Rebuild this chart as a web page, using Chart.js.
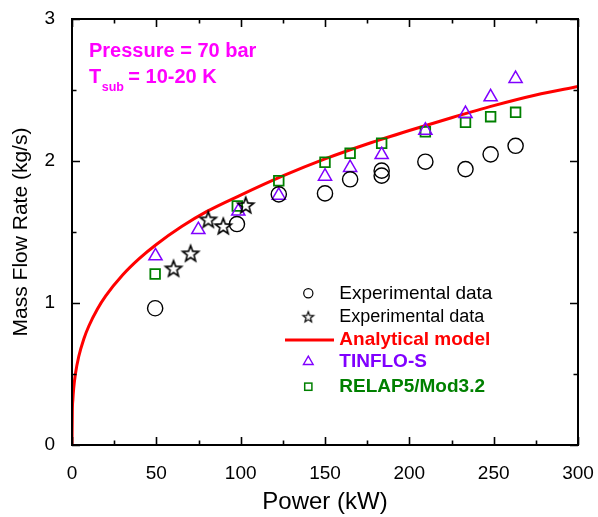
<!DOCTYPE html>
<html>
<head>
<meta charset="utf-8">
<script src="https://cdn.jsdelivr.net/npm/chart.js@4.4.0/dist/chart.umd.min.js"></script>
<style>
  html, body { margin: 0; padding: 0; background: #fff; }
  #wrap { width: 598px; height: 517px; }
</style>
</head>
<body>
<div id="wrap"><canvas id="flowChart" width="598" height="517"></canvas></div>
<script>
const FONT = "'Liberation Sans', Arial, sans-serif";

// Experimental data (circles)
const expPower = [49.3, 97.8, 122.6, 150, 164.9, 183.6, 183.6, 209.5, 233.3, 248.2, 263];
const expFlow = [0.963, 1.556, 1.765, 1.772, 1.871, 1.897, 1.932, 1.995, 1.943, 2.047, 2.107];

// Experimental data (stars)
const exp2Power = [60.2, 70.3, 80.8, 89.7, 103];
const exp2Flow = [1.244, 1.35, 1.589, 1.542, 1.69];

// Analytical model curve
const modelPower = [0, 0.2, 0.5, 1, 2, 4, 7, 10, 15, 20, 30, 40, 50, 65, 80, 100, 125, 150, 175, 200, 225, 250, 275, 300];
const modelFlow = [0, 0.236, 0.318, 0.398, 0.498, 0.623, 0.747, 0.838, 0.956, 1.05, 1.197, 1.314, 1.412, 1.538, 1.645, 1.76, 1.895, 2.015, 2.12, 2.215, 2.305, 2.39, 2.465, 2.525];

// TINFLO-S (triangles)
const tinfloPower = [49.5, 74.9, 98.6, 122.6, 150, 164.9, 183.6, 209.5, 233.3, 248.2, 263];
const tinfloFlow = [1.331, 1.516, 1.646, 1.758, 1.892, 1.953, 2.044, 2.216, 2.333, 2.451, 2.58];

// RELAP5/Mod3.2 (squares)
const relapPower = [49.3, 98, 122.6, 150, 164.9, 183.6, 209.5, 233.3, 248.2, 263];
const relapFlow = [1.204, 1.683, 1.861, 1.991, 2.054, 2.125, 2.206, 2.272, 2.312, 2.343];

const xTicks = [0, 50, 100, 150, 200, 250, 300];
const yTicks = [0, 1, 2, 3];

const toPoints = (xs, ys) => xs.map((x, i) => ({ x: x, y: ys[i] }));

// five-pointed star marker, since Chart.js 'star' is an asterisk
function makeStar(r, lw) {
    const c = document.createElement('canvas');
    const s = Math.ceil(2 * (r + lw + 1));
    c.width = s; c.height = s;
    const g = c.getContext('2d');
    g.translate(s / 2, s / 2 + r * 0.09);
    g.beginPath();
    for (let i = 0; i < 10; i++) {
        const rad = i % 2 === 0 ? r : r * 0.42;
        const a = -Math.PI / 2 + i * Math.PI / 5;
        const px = rad * Math.cos(a), py = rad * Math.sin(a);
        if (i === 0) g.moveTo(px, py); else g.lineTo(px, py);
    }
    g.closePath();
    g.lineWidth = lw;
    g.lineJoin = 'miter';
    g.strokeStyle = '#000';
    g.stroke();
    return c;
}
const starBig = makeStar(8.4, 1.6);
const starSmall = makeStar(5.6, 1.2);

// frame, inward ticks, legend and the condition note
const decorPlugin = {
    id: 'decor',
    afterDraw(chart) {
        const ctx = chart.ctx;
        const a = chart.chartArea;
        const xs = chart.scales.x, ys = chart.scales.y;
        ctx.save();
        ctx.strokeStyle = '#000';
        ctx.lineWidth = 1.6;
        ctx.beginPath();
        for (let v = 0; v <= 300; v += 25) {
            const px = Math.round(xs.getPixelForValue(v)) + 0.5;
            const len = v % 50 === 0 ? 8 : 4.5;
            ctx.moveTo(px, a.bottom); ctx.lineTo(px, a.bottom - len);
            ctx.moveTo(px, a.top); ctx.lineTo(px, a.top + len);
        }
        for (let v = 0; v <= 3; v += 0.5) {
            const py = Math.round(ys.getPixelForValue(v)) + 0.5;
            const len = v % 1 === 0 ? 8 : 4.5;
            ctx.moveTo(a.left, py); ctx.lineTo(a.left + len, py);
            ctx.moveTo(a.right, py); ctx.lineTo(a.right - len, py);
        }
        ctx.stroke();
        ctx.lineWidth = 2;
        ctx.strokeRect(a.left, a.top, a.right - a.left, a.bottom - a.top);

        // legend
        const lx = 308.3, tx = 339.3;
        const rows = [293.3, 316.7, 340, 361.7, 386.7];
        const ds = chart.data.datasets;
        ctx.textBaseline = 'middle';
        ctx.textAlign = 'left';

        ctx.lineWidth = 1.2;
        ctx.strokeStyle = '#000';
        ctx.beginPath(); ctx.arc(lx, rows[0], 4.6, 0, Math.PI * 2); ctx.stroke();
        ctx.fillStyle = '#000';
        ctx.font = '19px ' + FONT;
        ctx.fillText(ds[0].label, tx, rows[0]);

        ctx.drawImage(starSmall, lx - starSmall.width / 2, rows[1] - starSmall.height / 2);
        ctx.font = '18px ' + FONT;
        ctx.fillText(ds[1].label, tx, rows[1]);

        ctx.strokeStyle = '#ff0000';
        ctx.lineWidth = 3;
        ctx.beginPath(); ctx.moveTo(285, rows[2]); ctx.lineTo(334, rows[2]); ctx.stroke();
        ctx.fillStyle = '#ff0000';
        ctx.font = 'bold 19px ' + FONT;
        ctx.fillText(ds[2].label, tx, rows[2]);

        ctx.strokeStyle = '#8000ff';
        ctx.lineWidth = 1.4;
        const tr = 5.6;
        ctx.beginPath();
        ctx.moveTo(lx, rows[3] - tr);
        ctx.lineTo(lx + tr * 0.866, rows[3] + tr / 2);
        ctx.lineTo(lx - tr * 0.866, rows[3] + tr / 2);
        ctx.closePath(); ctx.stroke();
        ctx.fillStyle = '#8000ff';
        ctx.fillText(ds[3].label, tx, rows[3]);

        ctx.strokeStyle = '#008000';
        ctx.lineWidth = 1.5;
        ctx.strokeRect(lx - 3.6, rows[4] - 3.6, 7.2, 7.2);
        ctx.fillStyle = '#008000';
        ctx.fillText(ds[4].label, tx, rows[4]);

        // condition note
        ctx.fillStyle = '#ff00ff';
        ctx.textBaseline = 'alphabetic';
        ctx.font = 'bold 20px ' + FONT;
        ctx.fillText('Pressure = 70 bar', 89, 56.7);
        ctx.fillText('T', 89, 83.3);
        ctx.font = 'bold 12.5px ' + FONT;
        ctx.fillText('sub', 101.7, 91);
        ctx.font = 'bold 20px ' + FONT;
        ctx.fillText('= 10-20 K', 128.3, 83.3);
        ctx.restore();
    }
};

new Chart(document.getElementById('flowChart'), {
    type: 'scatter',
    data: {
        datasets: [
            {
                label: 'Experimental data',
                data: toPoints(expPower, expFlow),
                pointStyle: 'circle', pointRadius: 7.6, borderWidth: 1.4,
                borderColor: '#000', backgroundColor: 'rgba(0,0,0,0)', order: 1
            },
            {
                label: 'Experimental data',
                data: toPoints(exp2Power, exp2Flow),
                pointStyle: starBig, pointRadius: 8,
                borderColor: '#000', backgroundColor: 'rgba(0,0,0,0)', order: 2
            },
            {
                label: 'Analytical model',
                data: toPoints(modelPower, modelFlow),
                showLine: true, pointRadius: 0, borderWidth: 3,
                borderColor: '#ff0000', backgroundColor: '#ff0000',
                cubicInterpolationMode: 'monotone', order: 5
            },
            {
                label: 'TINFLO-S',
                data: toPoints(tinfloPower, tinfloFlow),
                pointStyle: 'triangle', pointRadius: 7.6, borderWidth: 1.5,
                borderColor: '#8000ff', backgroundColor: 'rgba(0,0,0,0)', order: 3
            },
            {
                label: 'RELAP5/Mod3.2',
                data: toPoints(relapPower, relapFlow),
                pointStyle: 'rect', pointRadius: 6.8, borderWidth: 1.8,
                borderColor: '#008000', backgroundColor: 'rgba(0,0,0,0)', order: 4
            }
        ]
    },
    options: {
        responsive: false,
        animation: false,
        layout: { padding: { top: 19, right: 20, left: 0, bottom: 0 } },
        plugins: { legend: { display: false }, tooltip: { enabled: false } },
        scales: {
            x: {
                type: 'linear', min: 0, max: 300,
                afterFit: (s) => { s.height = 72; s.paddingLeft = 0; s.paddingRight = 0; },
                afterBuildTicks: (s) => { s.ticks = xTicks.map(v => ({ value: v })); },
                grid: { display: false },
                border: { display: false },
                ticks: { color: '#000', padding: 9, maxRotation: 0, font: { family: FONT, size: 19 } },
                title: { display: true, text: 'Power (kW)', color: '#000', padding: 0, font: { family: FONT, size: 24 } }
            },
            y: {
                type: 'linear', min: 0, max: 3,
                afterFit: (s) => { s.width = 72; s.paddingTop = 0; s.paddingBottom = 0; },
                afterBuildTicks: (s) => { s.ticks = yTicks.map(v => ({ value: v })); },
                grid: { display: false },
                border: { display: false },
                ticks: { color: '#000', padding: 9, font: { family: FONT, size: 19 } },
                title: { display: true, text: 'Mass Flow Rate (kg/s)', color: '#000', padding: { top: 9, bottom: 0 }, font: { family: FONT, size: 21 } }
            }
        }
    },
    plugins: [decorPlugin]
});
</script>
</body>
</html>
